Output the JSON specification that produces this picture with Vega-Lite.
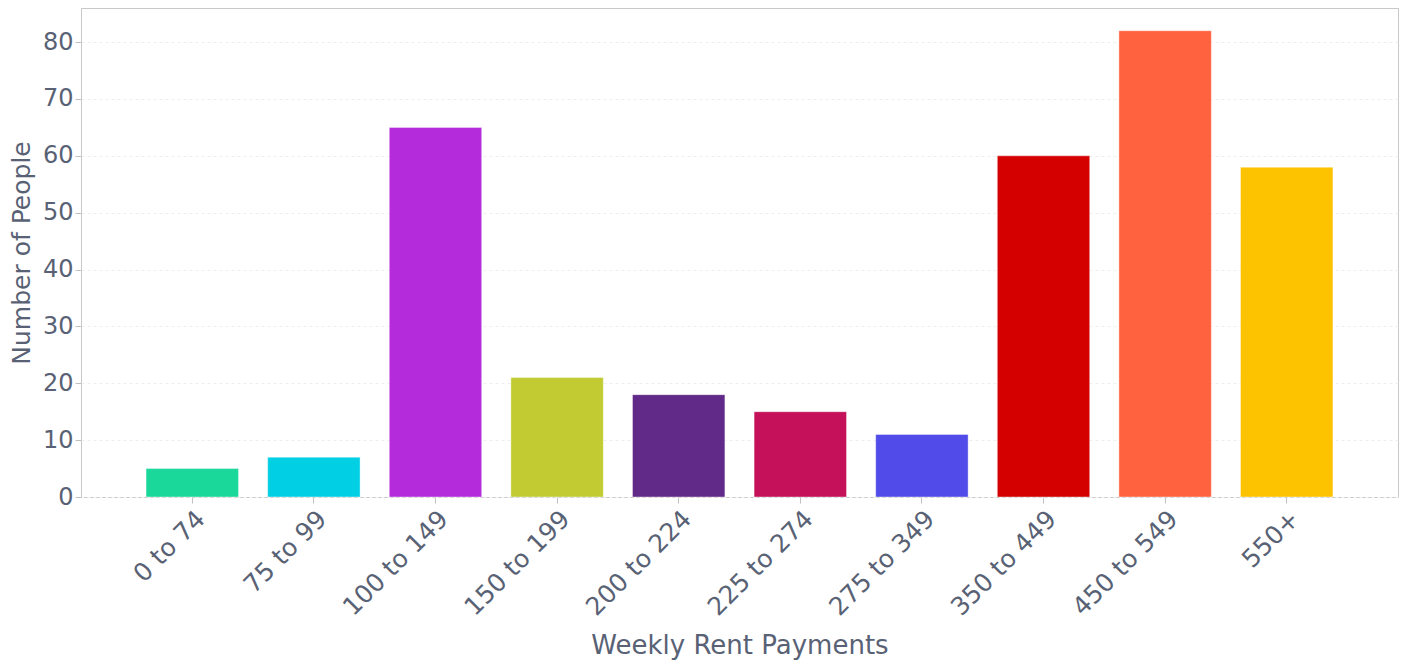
{
  "$schema": "https://vega.github.io/schema/vega-lite/v6.json",
  "autosize": {"type": "none"},
  "padding": {"left": 81, "top": 8, "right": 6, "bottom": 167},
  "width": 1317,
  "height": 489,
  "background": "white",
  "config": {
    "font": "DejaVu Sans",
    "view": {"stroke": "#c8c8c8", "strokeWidth": 1},
    "axis": {
      "labelColor": "#596275",
      "titleColor": "#596275",
      "labelFont": "DejaVu Sans",
      "titleFont": "DejaVu Sans",
      "titleFontWeight": "normal",
      "tickColor": "#c0c0c0",
      "domain": false,
      "tickSize": 6
    }
  },
  "data": {
    "values": [
      {"range": "0 to 74", "people": 5},
      {"range": "75 to 99", "people": 7},
      {"range": "100 to 149", "people": 65},
      {"range": "150 to 199", "people": 21},
      {"range": "200 to 224", "people": 18},
      {"range": "225 to 274", "people": 15},
      {"range": "275 to 349", "people": 11},
      {"range": "350 to 449", "people": 60},
      {"range": "450 to 549", "people": 82},
      {"range": "550+", "people": 58}
    ]
  },
  "mark": {"type": "bar", "stroke": "white", "strokeOpacity": 0.4, "strokeWidth": 1},
  "encoding": {
    "x": {
      "field": "range",
      "type": "nominal",
      "sort": null,
      "scale": {"paddingInner": 0.24, "paddingOuter": 0.535},
      "title": "Weekly Rent Payments",
      "axis": {
        "labelAngle": -45,
        "labelFontSize": 25,
        "titleFontSize": 26,
        "labelPadding": 3,
        "titlePadding": 12,
        "grid": false
      }
    },
    "y": {
      "field": "people",
      "type": "quantitative",
      "scale": {"domain": [0, 86], "nice": false},
      "title": "Number of People",
      "axis": {
        "values": [0, 10, 20, 30, 40, 50, 60, 70, 80],
        "labelFontSize": 24,
        "titleFontSize": 25,
        "labelPadding": 2,
        "titlePadding": 8,
        "grid": true,
        "gridColor": "#eeeeee",
        "gridDash": [3, 3]
      }
    },
    "color": {
      "field": "range",
      "type": "nominal",
      "sort": null,
      "legend": null,
      "scale": {
        "domain": ["0 to 74", "75 to 99", "100 to 149", "150 to 199", "200 to 224", "225 to 274", "275 to 349", "350 to 449", "450 to 549", "550+"],
        "range": ["#19d89a", "#00cfe4", "#b32bdb", "#c2cb32", "#622a88", "#c41159", "#504be9", "#d40000", "#ff623e", "#fdc300"]
      }
    }
  }
}
